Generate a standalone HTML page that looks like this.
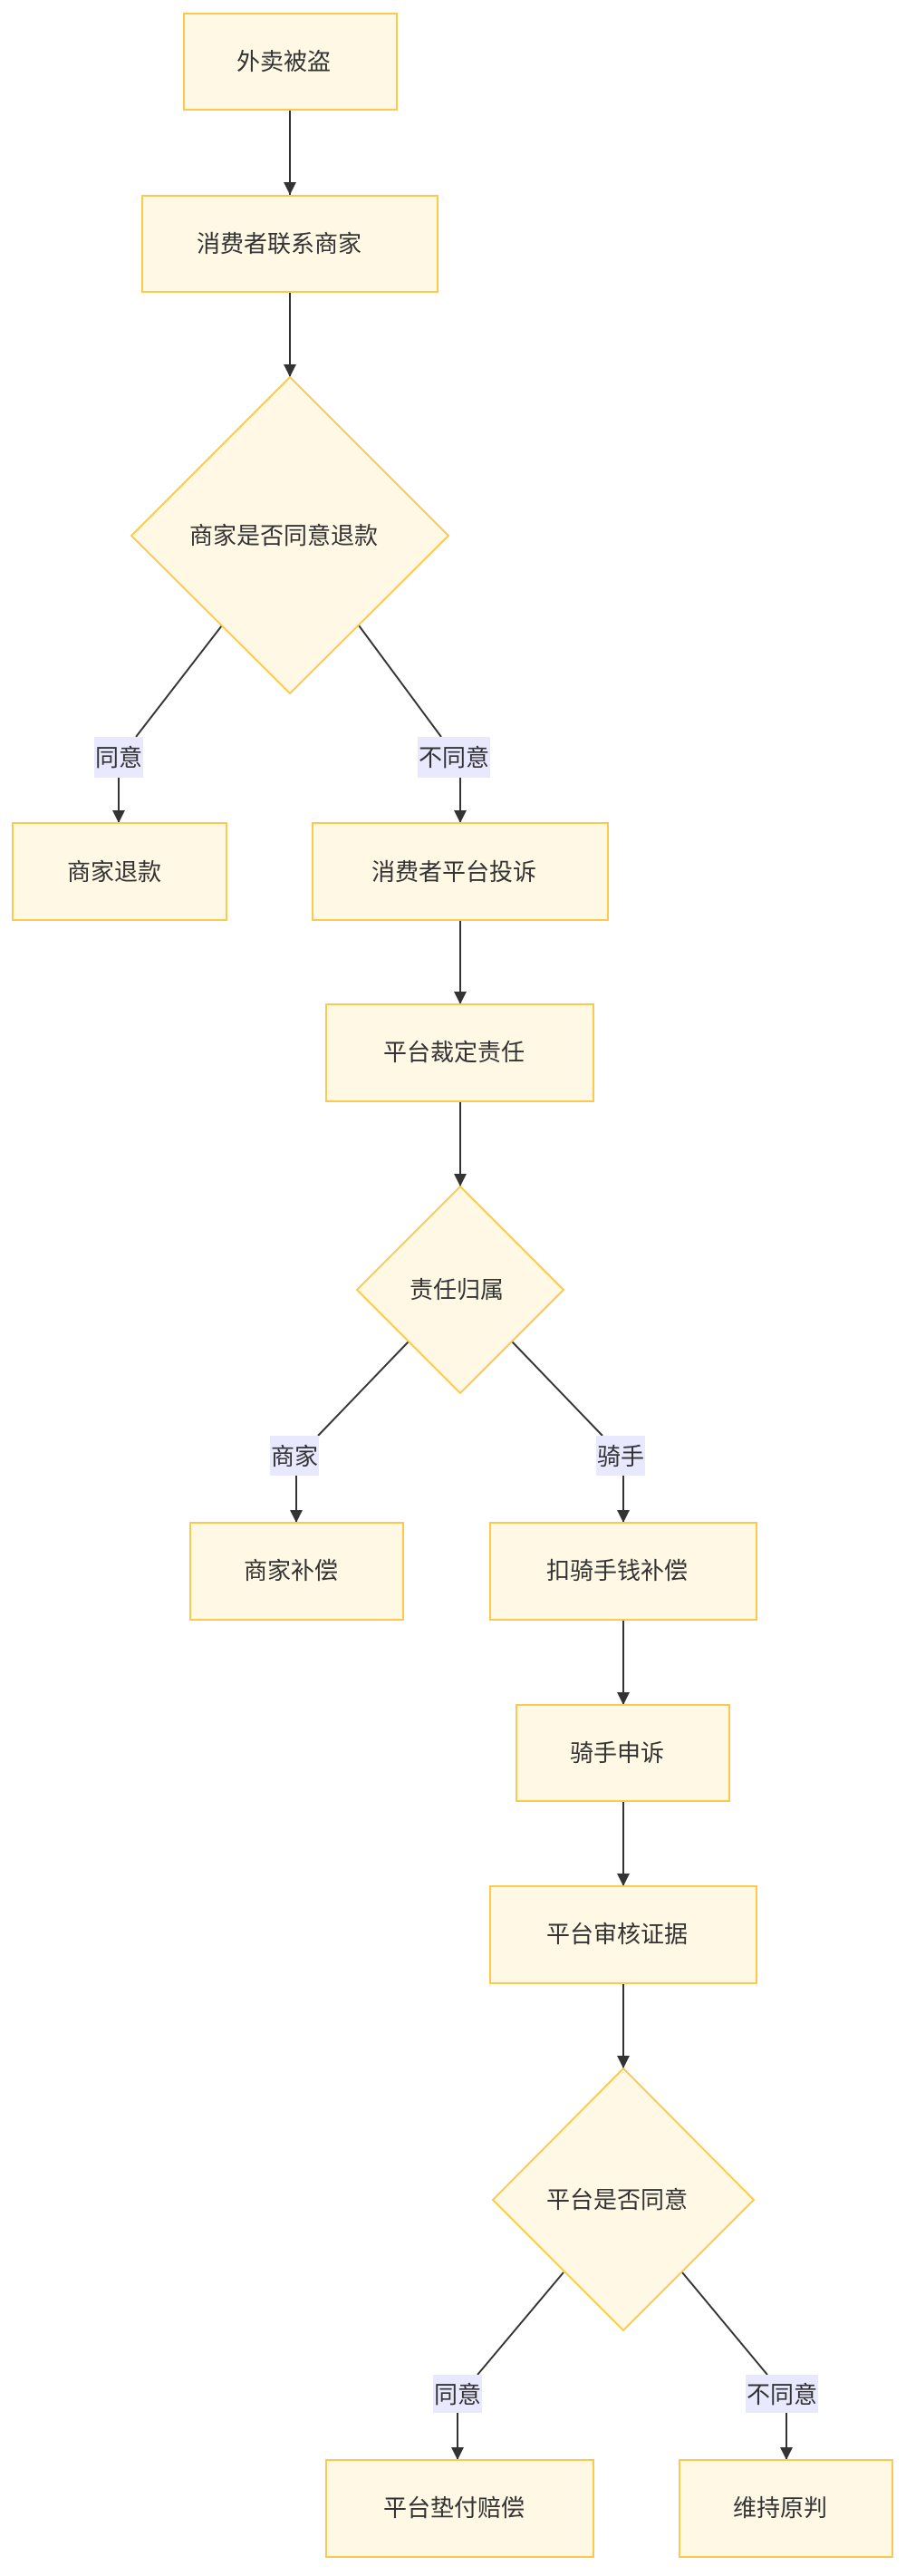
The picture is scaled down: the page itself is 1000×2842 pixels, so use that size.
<!DOCTYPE html>
<html><head><meta charset="utf-8"><style>
html,body{margin:0;padding:0;background:#fff;}
text{font-family:"Liberation Sans","Noto Sans CJK SC",sans-serif;font-size:26px;fill:#333;}
</style></head><body>
<svg width="1000" height="2837" viewBox="0 0 1000 2837" xmlns="http://www.w3.org/2000/svg">
<defs>
<marker id="b" viewBox="0 0 12 12" refX="12" refY="6" markerWidth="14" markerHeight="14" orient="auto" markerUnits="userSpaceOnUse"><path d="M0,0L12,6L0,12z" fill="#333"/></marker></defs>
<g stroke="#333" stroke-width="2" fill="none">
<line x1="320" y1="121" x2="320" y2="215" marker-end="url(#b)"/>
<line x1="320" y1="322" x2="320" y2="416" marker-end="url(#b)"/>
<polyline points="245,690 150,813"/><line x1="131" y1="858" x2="131" y2="908" marker-end="url(#b)"/>
<polyline points="396,690 487,813"/><line x1="508" y1="858" x2="508" y2="908" marker-end="url(#b)"/>
<line x1="508" y1="1015" x2="508" y2="1108" marker-end="url(#b)"/>
<line x1="508" y1="1215" x2="508" y2="1309" marker-end="url(#b)"/>
<polyline points="451,1480 351,1584"/><line x1="327" y1="1628" x2="327" y2="1680" marker-end="url(#b)"/>
<polyline points="565,1480 665,1584"/><line x1="688" y1="1628" x2="688" y2="1680" marker-end="url(#b)"/>
<line x1="688" y1="1787" x2="688" y2="1881" marker-end="url(#b)"/>
<line x1="688" y1="1987" x2="688" y2="2081" marker-end="url(#b)"/>
<line x1="688" y1="2188" x2="688" y2="2282" marker-end="url(#b)"/>
<polyline points="622,2507 527,2620"/><line x1="505" y1="2662" x2="505" y2="2714" marker-end="url(#b)"/>
<polyline points="753,2507 847,2620"/><line x1="868" y1="2662" x2="868" y2="2714" marker-end="url(#b)"/>
</g>
<g fill="#fff8e5" stroke="#fcc94b" stroke-width="2">
<rect x="203" y="15" width="235" height="106"/>
<rect x="157" y="216" width="326" height="106"/>
<polygon points="320,416 495,591 320,765 145,591"/>
<rect x="14" y="908" width="236" height="107"/>
<rect x="345" y="908" width="326" height="107"/>
<rect x="360" y="1108" width="295" height="107"/>
<polygon points="508,1309 622,1423 508,1537 394,1423"/>
<rect x="210" y="1680" width="235" height="107"/>
<rect x="541" y="1680" width="294" height="107"/>
<rect x="570" y="1881" width="235" height="106"/>
<rect x="541" y="2081" width="294" height="107"/>
<polygon points="688,2282 832,2427 688,2571 544,2427"/>
<rect x="360" y="2714" width="295" height="107"/>
<rect x="750" y="2714" width="235" height="107"/>
</g>
<g fill="#e8e8ff">
<rect x="104" y="813" width="54" height="45"/>
<rect x="461" y="813" width="80" height="45"/>
<rect x="298" y="1584" width="54" height="44"/>
<rect x="658" y="1584" width="54" height="44"/>
<rect x="478" y="2620" width="54" height="42"/>
<rect x="823" y="2620" width="80" height="42"/>
</g>
<g text-anchor="middle">
<text x="313" y="77">外卖被盗</text>
<text x="308" y="278">消费者联系商家</text>
<text x="313" y="600">商家是否同意退款</text>
<text x="131" y="845">同意</text>
<text x="501" y="845">不同意</text>
<text x="126" y="971">商家退款</text>
<text x="501" y="971">消费者平台投诉</text>
<text x="501" y="1170">平台裁定责任</text>
<text x="504" y="1432">责任归属</text>
<text x="325" y="1616">商家</text>
<text x="685" y="1616">骑手</text>
<text x="321" y="1742">商家补偿</text>
<text x="681" y="1742">扣骑手钱补偿</text>
<text x="681" y="1943">骑手申诉</text>
<text x="681" y="2143">平台审核证据</text>
<text x="681" y="2436">平台是否同意</text>
<text x="505" y="2651">同意</text>
<text x="863" y="2651">不同意</text>
<text x="501" y="2776">平台垫付赔偿</text>
<text x="861" y="2776">维持原判</text>
</g>
</svg>
</body></html>
